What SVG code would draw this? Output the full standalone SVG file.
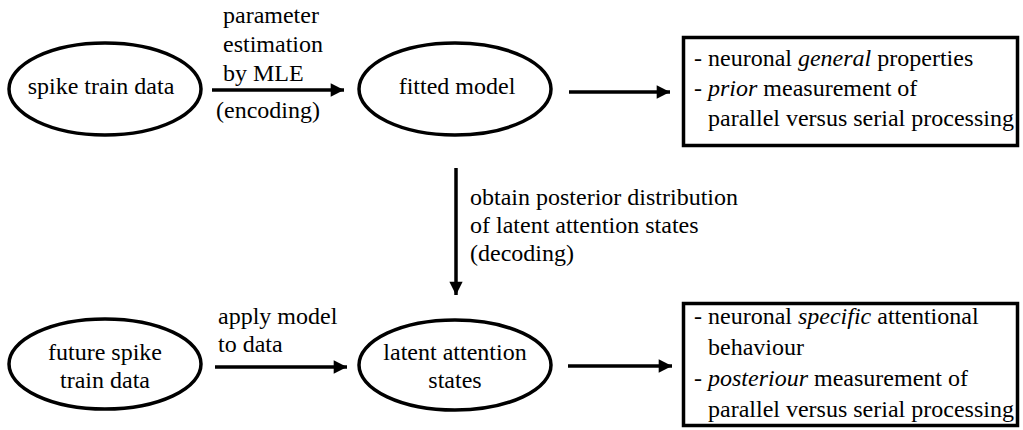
<svg xmlns="http://www.w3.org/2000/svg" width="1023" height="430" viewBox="0 0 1023 430">
<style>
text{font-family:Liberation Serif,Tinos,DejaVu Serif,FreeSerif,serif;font-size:24px;fill:#000}
.c{text-anchor:middle}
.n{fill:#fff;stroke:#000;stroke-width:3.5}
.e{stroke:#000;stroke-width:3.5;fill:none}
</style>
<defs>
<marker id="ah" viewBox="0 0 10 10" refX="10" refY="5" markerWidth="5.2" markerHeight="3.8" markerUnits="strokeWidth" orient="auto">
<path d="M0,0 L10,5 L0,10 z" fill="#000"/>
</marker>
</defs>
<rect width="1023" height="430" fill="#fff"/>
<g id="connectors">
<line class="e" x1="212" y1="90" x2="344" y2="90" marker-end="url(#ah)"/>
<line class="e" x1="569" y1="92" x2="670" y2="92" marker-end="url(#ah)"/>
<line class="e" x1="456" y1="168" x2="456" y2="295" marker-end="url(#ah)"/>
<line class="e" x1="215" y1="367" x2="347" y2="367" marker-end="url(#ah)"/>
<line class="e" x1="568" y1="366" x2="672" y2="366" marker-end="url(#ah)"/>
<text x="223" y="23">parameter</text>
<text x="223" y="52">estimation</text>
<text x="223" y="81">by MLE</text>
<text x="216" y="118">(encoding)</text>
<text x="470" y="205">obtain posterior distribution</text>
<text x="470" y="233">of latent attention states</text>
<text x="470" y="261">(decoding)</text>
<text x="218" y="324">apply model</text>
<text x="218" y="352">to data</text>
</g>
<g id="spike-train-data">
<ellipse class="n" cx="105" cy="89" rx="96" ry="46"/>
<text class="c" x="101" y="94">spike train data</text>
</g>
<g id="fitted-model">
<ellipse class="n" cx="455" cy="89" rx="96" ry="46"/>
<text class="c" x="457" y="94">fitted model</text>
</g>
<g id="prior-box">
<rect class="n" x="683.5" y="37.5" width="334" height="108"/>
<text x="694" y="66">- neuronal <tspan font-style="italic">general</tspan> properties</text>
<text x="694" y="96">- <tspan font-style="italic">prior</tspan> measurement of</text>
<text x="708" y="126">parallel versus serial processing</text>
</g>
<g id="future-spike-train-data">
<ellipse class="n" cx="105" cy="364" rx="96" ry="45"/>
<text class="c" x="105" y="360">future spike</text>
<text class="c" x="105" y="388">train data</text>
</g>
<g id="latent-attention-states">
<ellipse class="n" cx="455" cy="365" rx="96" ry="45"/>
<text class="c" x="455" y="360">latent attention</text>
<text class="c" x="455" y="388">states</text>
</g>
<g id="posterior-box">
<rect class="n" x="683.5" y="303.5" width="334" height="122"/>
<text x="694" y="324">- neuronal <tspan font-style="italic">specific</tspan> attentional</text>
<text x="708" y="355">behaviour</text>
<text x="694" y="386">- <tspan font-style="italic">posteriour</tspan> measurement of</text>
<text x="708" y="417">parallel versus serial processing</text>
</g>
</svg>
